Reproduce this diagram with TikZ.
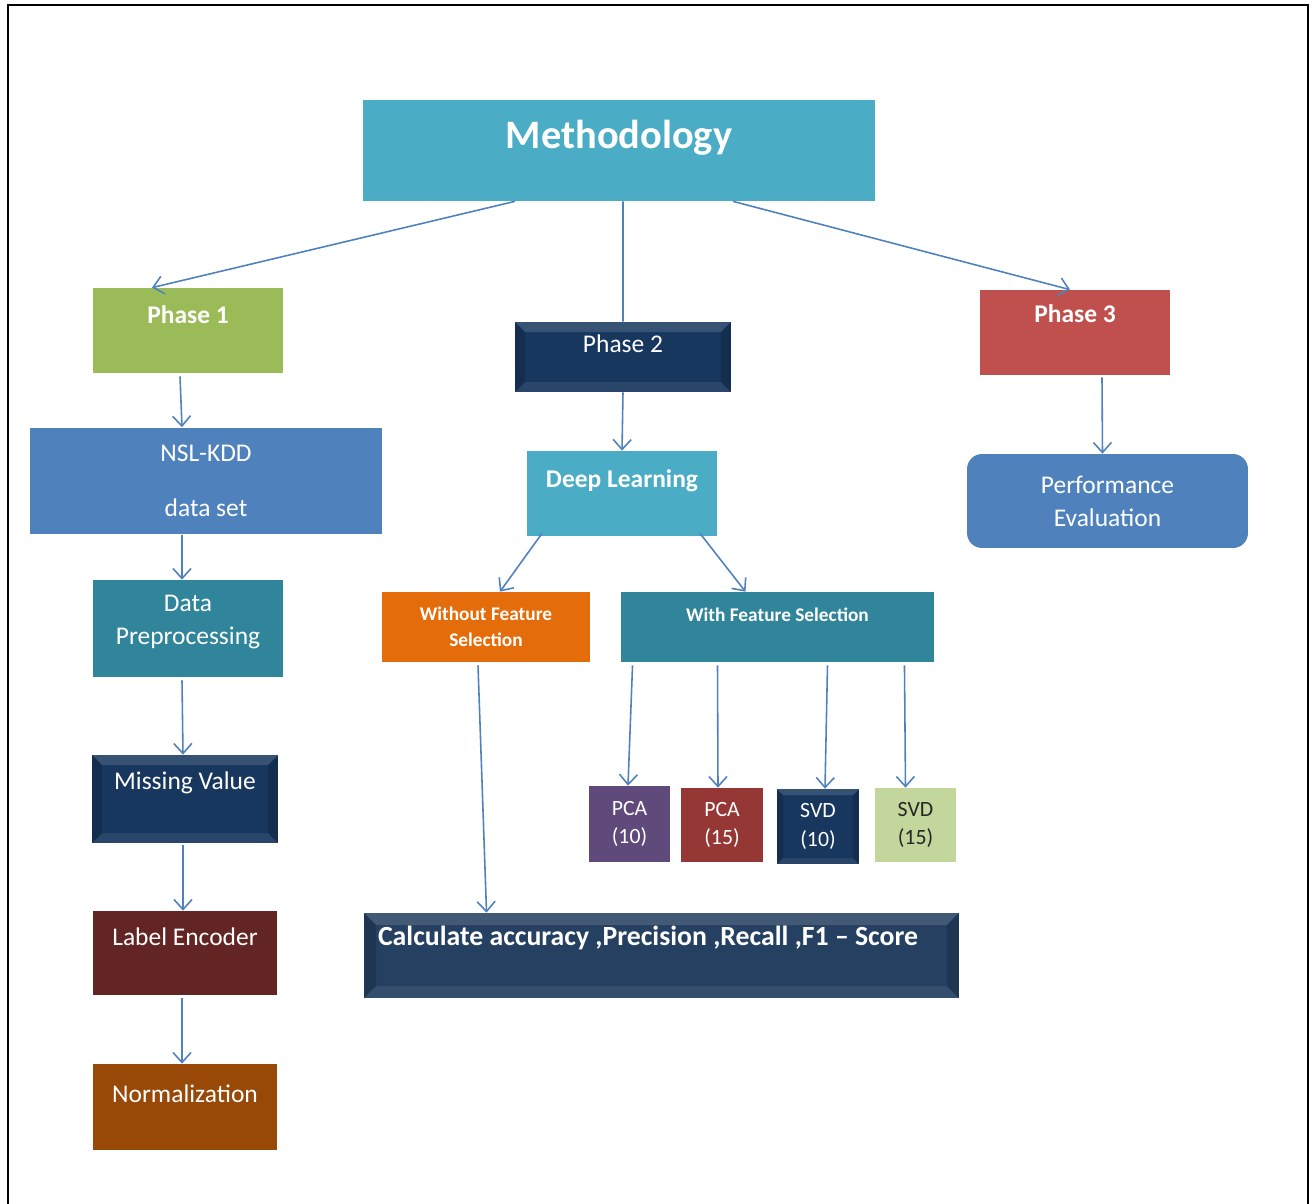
\documentclass[tikz,border=0pt]{standalone}
\usepackage{fontspec}
\setmainfont{Carlito}
\usetikzlibrary{arrows.meta, positioning}
\definecolor{methblue}{RGB}{75,172,198}
\definecolor{phgreen}{RGB}{155,187,89}
\definecolor{phnavy}{RGB}{23,55,94}
\definecolor{phred}{RGB}{192,80,77}
\definecolor{nslblue}{RGB}{79,129,189}
\definecolor{tealblue}{RGB}{49,133,155}
\definecolor{maroon}{RGB}{99,37,35}
\definecolor{rustbrown}{RGB}{152,72,7}
\definecolor{deeporange}{RGB}{228,108,10}
\definecolor{pcapurple}{RGB}{96,74,123}
\definecolor{pcared}{RGB}{149,55,53}
\definecolor{svdgreen}{RGB}{195,214,155}
\definecolor{calcnavy}{RGB}{37,64,97}
\newcommand{\sizeTitle}{\fontsize{23}{28}\selectfont\bfseries}
\newcommand{\sizeMain}{\fontsize{14.5}{18.7}\selectfont}
\newcommand{\sizeSub}{\fontsize{11}{14.7}\selectfont\bfseries}
\newcommand{\sizeSmall}{\fontsize{12.4}{16.4}\selectfont}
\newcommand{\sizeCalc}{\fontsize{15.8}{19}\selectfont\bfseries}

\begin{document}
\begin{tikzpicture}[
    x=0.02cm, y=-0.02cm,
    block/.style={rectangle, fill=#1, text=white, align=center, inner sep=0pt, font=\sizeMain},
    block/.default=nslblue,
    lift/.style={text depth=#1},
    bevel/.style={path picture={
        \fill[white, opacity=0.14] (path picture bounding box.north west) -- (path picture bounding box.north east)
            -- ([xshift=-#1, yshift=-#1]path picture bounding box.north east) -- ([xshift=#1, yshift=-#1]path picture bounding box.north west) -- cycle;
        \fill[white, opacity=0.08] (path picture bounding box.south west) -- (path picture bounding box.south east)
            -- ([xshift=-#1, yshift=#1]path picture bounding box.south east) -- ([xshift=#1, yshift=#1]path picture bounding box.south west) -- cycle;
        \fill[black, opacity=0.15] (path picture bounding box.north west) -- ([xshift=#1, yshift=-#1]path picture bounding box.north west)
            -- ([xshift=#1, yshift=#1]path picture bounding box.south west) -- (path picture bounding box.south west) -- cycle;
        \fill[black, opacity=0.15] (path picture bounding box.north east) -- ([xshift=-#1, yshift=-#1]path picture bounding box.north east)
            -- ([xshift=-#1, yshift=#1]path picture bounding box.south east) -- (path picture bounding box.south east) -- cycle;
    }},
    bevel/.default=0.2cm,
    arr/.style={-{Straight Barb[length=0.2cm, width=0.36cm]}, line width=0.9pt, nslblue},
    link/.style={line width=0.9pt, nslblue},
]
    \useasboundingbox (0,0) rectangle (1313,1204);
    \draw[line width=1.2pt] (8,1204) -- (8,5) -- (1308,5) -- (1308,1204);

    % Top
    \node[block=methblue, minimum width=10.24cm, minimum height=2.02cm, font=\sizeTitle, lift=0.64cm] (meth) at (619,150.5) {Methodology};

    % Phases
    \node[block=phgreen, minimum width=3.8cm, minimum height=1.7cm, font=\sizeMain\bfseries, lift=0.63cm] (ph1) at (188,330.5) {Phase 1};
    \node[block=phnavy, bevel, minimum width=4.32cm, minimum height=1.4cm, lift=0.53cm] (ph2) at (623,357) {Phase 2};
    \node[block=phred, minimum width=3.8cm, minimum height=1.7cm, font=\sizeMain\bfseries, lift=0.77cm] (ph3) at (1075,332.5) {Phase 3};

    % Phase 1 column
    \node[block=nslblue, minimum width=7.04cm, minimum height=2.14cm] (nsl) at (206,481) {NSL-KDD\\[12.5pt]data set};
    \node[block=tealblue, minimum width=3.8cm, minimum height=1.94cm] (prep) at (188,628.5) {Data\\Preprocessing\\[-9pt]};
    \node[block=phnavy, bevel, minimum width=3.72cm, minimum height=1.76cm, lift=0.75cm] (miss) at (185,799) {Missing Value};
    \node[block=maroon, minimum width=3.68cm, minimum height=1.68cm, lift=0.67cm] (enc) at (185,953) {Label Encoder};
    \node[block=rustbrown, minimum width=3.68cm, minimum height=1.72cm, lift=0.53cm] (norm) at (185,1107) {Normalization};

    % Phase 2 column
    \node[block=methblue, minimum width=3.8cm, minimum height=1.7cm, font=\sizeMain\bfseries, lift=0.59cm] (deep) at (622,493.5) {Deep Learning};
    \node[block=deeporange, minimum width=4.16cm, minimum height=1.4cm, font=\sizeSub] (nofs) at (486,627) {Without Feature\\Selection};
    \node[block=tealblue, minimum width=6.26cm, minimum height=1.4cm, font=\sizeSub, lift=0.5cm] (fs) at (777.5,627) {With Feature Selection};
    \node[block=pcapurple, minimum width=1.62cm, minimum height=1.52cm, font=\sizeSmall] (pca10) at (629.5,824) {PCA\\(10)};
    \node[block=pcared, minimum width=1.64cm, minimum height=1.48cm, font=\sizeSmall] (pca15) at (722,825) {PCA\\(15)};
    \node[block=phnavy, bevel=0.12cm, minimum width=1.64cm, minimum height=1.5cm, font=\sizeSmall] (svd10) at (818,826.5) {SVD\\(10)};
    \node[block=svdgreen, text=black!85, minimum width=1.62cm, minimum height=1.48cm, font=\sizeSmall] (svd15) at (915.5,825) {SVD\\(15)};
    \node[block=calcnavy, bevel=0.24cm, minimum width=11.9cm, minimum height=1.7cm, text width=11.34cm, align=flush left, font=\sizeCalc, lift=0.8cm] (metrics) at (661.5,955.5) {Calculate accuracy ,Precision ,Recall ,F1 -- Score};

    % Phase 3 column
    \node[block=nslblue, rounded corners=0.3cm, minimum width=5.62cm, minimum height=1.88cm] (perf) at (1107.5,501) {Performance\\Evaluation};

    % Connections
    \draw[arr] ([xshift=-2.08cm]meth.south) -- ([xshift=-0.72cm]ph1.north);
    \draw[link] ([xshift=0.08cm]meth.south) -- (ph2.north);
    \draw[arr] ([xshift=2.28cm]meth.south) -- ([xshift=-0.1cm]ph3.north);

    \draw[arr] ([xshift=-0.16cm, yshift=-0.06cm]ph1.south) -- ([xshift=-0.48cm]nsl.north);
    \draw[arr] ([xshift=-0.48cm]nsl.south) -- ([xshift=-0.12cm]prep.north);
    \draw[arr] ([xshift=-0.12cm, yshift=-0.06cm]prep.south) -- ([xshift=-0.04cm]miss.north);
    \draw[arr] ([xshift=-0.04cm, yshift=-0.04cm]miss.south) -- ([xshift=-0.04cm]enc.north);
    \draw[arr] ([xshift=-0.06cm, yshift=-0.06cm]enc.south) -- ([xshift=-0.06cm]norm.north);

    \draw[arr] (ph2.south) -- (deep.north);
    \draw[arr] ([xshift=-1.6cm, yshift=0.06cm]deep.south) -- ([xshift=0.28cm]nofs.north);
    \draw[arr] ([xshift=1.56cm, yshift=0.06cm]deep.south) -- ([xshift=-0.64cm]fs.north);
    \draw[arr] ([xshift=-0.16cm, yshift=-0.06cm]nofs.south) -- ([xshift=-3.5cm]metrics.north);
    \draw[arr] ([xshift=-2.9cm, yshift=-0.06cm]fs.south) -- ([xshift=-0.03cm]pca10.north);
    \draw[arr] ([xshift=-1.2cm, yshift=-0.06cm]fs.south) -- ([xshift=-0.08cm]pca15.north);
    \draw[arr] ([xshift=1.0cm, yshift=-0.06cm]fs.south) -- ([xshift=0.14cm]svd10.north);
    \draw[arr] ([xshift=2.54cm, yshift=-0.06cm]fs.south) -- ([xshift=-0.2cm]svd15.north);

    \draw[arr] ([xshift=0.54cm, yshift=-0.04cm]ph3.south) -- ([xshift=-0.1cm]perf.north);
\end{tikzpicture}
\end{document}
